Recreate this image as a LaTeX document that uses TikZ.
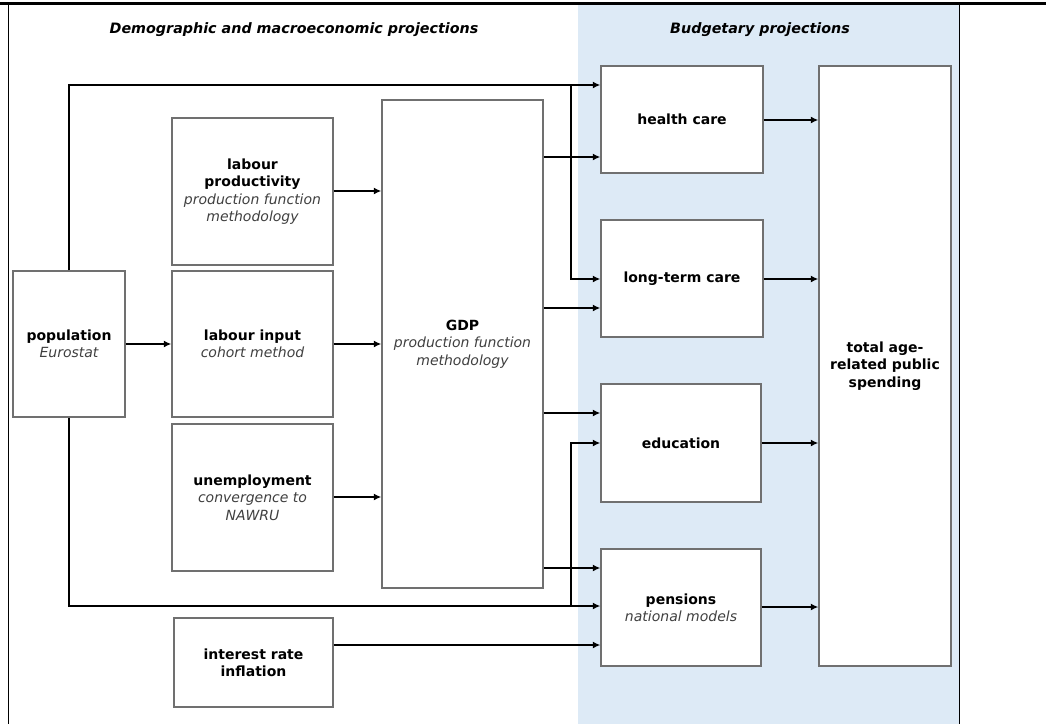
\documentclass[tikz,border=0pt]{standalone}
\usepackage{fontspec}
\setmainfont{DejaVu Sans}
\usetikzlibrary{arrows.meta}
\definecolor{budgetblue}{RGB}{221,234,246}
\definecolor{boxgray}{RGB}{112,112,112}
\definecolor{notegray}{RGB}{64,64,64}
\tikzstyle{block} = [rectangle, 
draw=boxgray, 
line width=1.4pt, 
fill=white, 
inner sep=0pt, 
align=center, 
font=\fontsize{14}{17.4}\selectfont\bfseries]
\tikzstyle{heading} = [font=\fontsize{14.3}{16}\selectfont\bfseries\itshape]
\tikzstyle{arrow} = [line width=1.4pt,->,>={Latex[length=7.5pt,width=7pt]}]
\newcommand{\note}[1]{{\mdseries\itshape\color{notegray}#1}}

\begin{document}
\begin{tikzpicture}[x=1pt, y=-1pt]
\useasboundingbox (0,0) rectangle (1046,724);

% frame and budgetary panel
\fill[budgetblue] (578,4) rectangle (959,724);
\draw[line width=1pt] (8,4) -- (8,724);
\draw[line width=1pt] (959,4) -- (959,724);
\draw[line width=3pt] (0,3.5) -- (1046,3.5);

\node (demtitle) [heading] at (294,29.5) {Demographic and macroeconomic projections};
\node (budtitle) [heading] at (760,29.5) {Budgetary projections};

% inputs
\node (pop) [block, minimum width=112pt, minimum height=146pt] at (69,344) {population\\ \note{Eurostat}};
\node (prod) [block, minimum width=161pt, minimum height=147pt] at (252.5,191.5) {labour\\ productivity\\ \note{production function}\\ \note{methodology}};
\node (input) [block, minimum width=161pt, minimum height=146pt] at (252.5,344) {labour input\\ \note{cohort method}};
\node (unemp) [block, minimum width=161pt, minimum height=147pt] at (252.5,497.5) {unemployment\\ \note{convergence to}\\ \note{NAWRU}};
\node (rate) [block, minimum width=159pt, minimum height=89pt] at (253.5,662.5) {interest rate\\ inflation};
\node (gdp) [block, minimum width=161pt, minimum height=488pt] at (462.5,344) {GDP\\ \note{production function}\\ \note{methodology}};

% budgetary items
\node (health) [block, minimum width=162pt, minimum height=107pt] at (682,119.5) {health care};
\node (ltc) [block, minimum width=162pt, minimum height=117pt] at (682,278.5) {long-term care};
\node (edu) [block, minimum width=160pt, minimum height=118pt] at (681,443) {education};
\node (pens) [block, minimum width=160pt, minimum height=117pt] at (681,607.5) {pensions\\ \note{national models}};
\node (total) [block, minimum width=132pt, minimum height=600pt] at (885,366) {total age-\\ related public\\ spending};

\coordinate (jtop) at (571,85);
\coordinate (jbot) at (571,606);

% population branches
\draw [arrow] (pop.north) |- (health.west |- jtop);
\draw [arrow] (jtop) |- (ltc.west |- 0,279);
\draw [arrow] (pop.south) |- (pens.west |- jbot);
\draw [arrow] (jbot) |- (edu.west |- 0,443);
\draw [arrow] (pop.east) -- (input.west);

% into GDP
\draw [arrow] (prod.east |- 0,191) -- (gdp.west |- 0,191);
\draw [arrow] (input.east) -- (input.east -| gdp.west);
\draw [arrow] (unemp.east |- 0,497) -- (gdp.west |- 0,497);

% out of GDP
\draw [arrow] (gdp.east |- 0,157) -- (health.west |- 0,157);
\draw [arrow] (gdp.east |- 0,308) -- (ltc.west |- 0,308);
\draw [arrow] (gdp.east |- 0,413) -- (edu.west |- 0,413);
\draw [arrow] (gdp.east |- 0,568) -- (pens.west |- 0,568);
\draw [arrow] (rate.east |- 0,645) -- (pens.west |- 0,645);

% into total
\draw [arrow] (health.east |- 0,120) -- (total.west |- 0,120);
\draw [arrow] (ltc.east |- 0,279) -- (total.west |- 0,279);
\draw [arrow] (edu.east) -- (edu.east -| total.west);
\draw [arrow] (pens.east |- 0,607) -- (total.west |- 0,607);

\end{tikzpicture}
\end{document}
